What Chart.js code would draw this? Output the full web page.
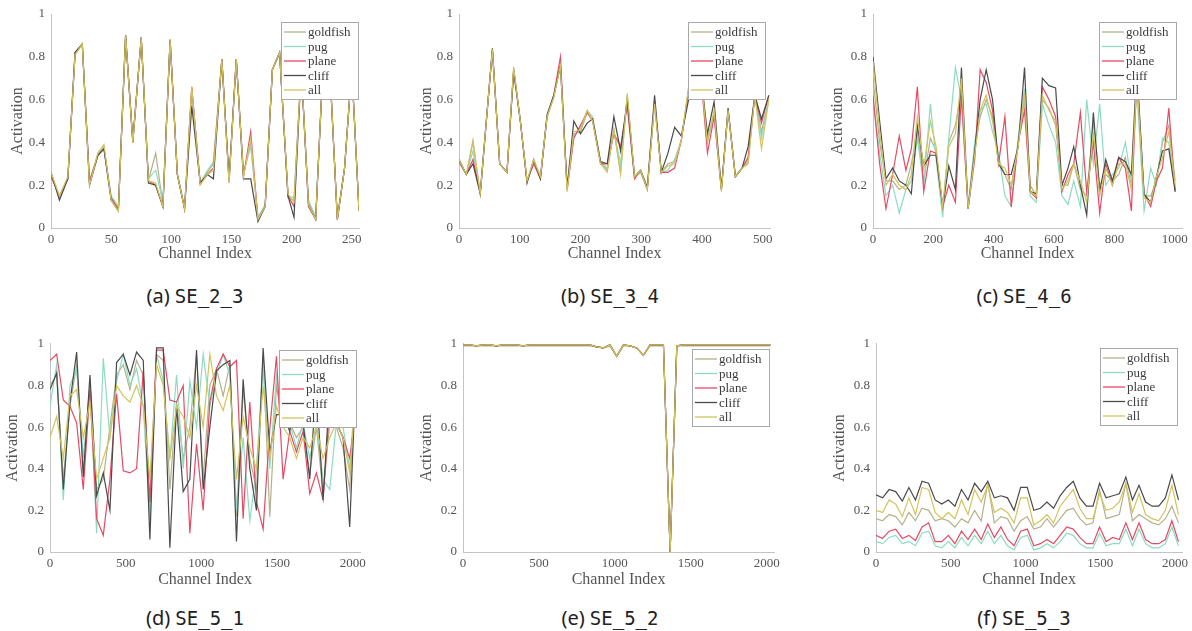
<!DOCTYPE html>
<html>
<head>
<meta charset="utf-8">
<script src="https://cdn.jsdelivr.net/npm/chart.js@4.4.0/dist/chart.umd.min.js"></script>
<style>
  body { margin: 0; background: #fff; }
  #fig { position: relative; width: 1192px; height: 631px; overflow: hidden; background: #fff; }
  canvas { position: absolute; }
  .cap { position: absolute; width: 240px; text-align: center; font-size: 20px; line-height: 24px; color: #222; white-space: nowrap; }
  .cap .lbl { font-family: "Noto Sans", sans-serif; }
  .cap .nm { font-family: "DejaVu Sans Mono", "Liberation Mono", monospace; font-size: 19px; }
</style>
</head>
<body>
<div id="fig">
  <canvas id="pa" width="385" height="266" style="left:0px;top:0px"></canvas>
  <canvas id="pb" width="385" height="266" style="left:400px;top:0px"></canvas>
  <canvas id="pc" width="392" height="266" style="left:800px;top:0px"></canvas>
  <canvas id="pd" width="385" height="266" style="left:0px;top:330px"></canvas>
  <canvas id="pe" width="385" height="266" style="left:400px;top:330px"></canvas>
  <canvas id="pf" width="392" height="266" style="left:800px;top:330px"></canvas>
  <div class="cap" style="left:75px;top:284px"><span class="lbl">(a)</span> <span class="nm">SE_2_3</span></div>
  <div class="cap" style="left:490px;top:284px"><span class="lbl">(b)</span> <span class="nm">SE_3_4</span></div>
  <div class="cap" style="left:904px;top:284px"><span class="lbl">(c)</span> <span class="nm">SE_4_6</span></div>
  <div class="cap" style="left:75px;top:606px"><span class="lbl">(d)</span> <span class="nm">SE_5_1</span></div>
  <div class="cap" style="left:490px;top:606px"><span class="lbl">(e)</span> <span class="nm">SE_5_2</span></div>
  <div class="cap" style="left:904px;top:606px"><span class="lbl">(f)</span> <span class="nm">SE_5_3</span></div>
</div>
<script>
// series shown in every panel
const seriesNames = ['goldfish', 'pug', 'plane', 'cliff', 'all'];
const seriesColors = ['#b5b08c', '#8cdcc2', '#e64a64', '#4a4a4a', '#d3c35c'];

const yTicks = [0, 0.2, 0.4, 0.6, 0.8, 1];
const xTicksA = [0, 50, 100, 150, 200, 250];
const xTicksB = [0, 100, 200, 300, 400, 500];
const xTicksC = [0, 200, 400, 600, 800, 1000];
const xTicksWide = [0, 500, 1000, 1500, 2000];

// (a) SE_2_3
const xA = [0, 7, 14, 20, 26, 32, 39, 44, 50, 56, 62, 68, 75, 81, 87, 93, 99, 105, 111, 117, 124, 130, 135, 142, 148, 154, 160, 166, 172, 178, 184, 190, 197, 202, 208, 214, 220, 226, 232, 238, 244, 250, 256];
const goldfishA = [0.26, 0.14, 0.24, 0.81, 0.86, 0.21, 0.35, 0.38, 0.14, 0.09, 0.90, 0.40, 0.89, 0.22, 0.35, 0.11, 0.88, 0.25, 0.09, 0.65, 0.21, 0.26, 0.30, 0.79, 0.21, 0.79, 0.25, 0.40, 0.05, 0.10, 0.74, 0.82, 0.14, 0.13, 0.75, 0.12, 0.05, 0.75, 0.72, 0.04, 0.28, 0.75, 0.08];
const pugA = [0.25, 0.15, 0.23, 0.81, 0.86, 0.22, 0.34, 0.38, 0.15, 0.10, 0.89, 0.41, 0.88, 0.23, 0.27, 0.12, 0.88, 0.26, 0.10, 0.64, 0.21, 0.27, 0.31, 0.78, 0.22, 0.78, 0.26, 0.38, 0.05, 0.11, 0.74, 0.81, 0.15, 0.14, 0.74, 0.13, 0.05, 0.74, 0.71, 0.05, 0.28, 0.74, 0.09];
const planeA = [0.24, 0.15, 0.23, 0.82, 0.86, 0.22, 0.34, 0.37, 0.14, 0.09, 0.90, 0.41, 0.89, 0.22, 0.20, 0.10, 0.88, 0.25, 0.09, 0.66, 0.21, 0.25, 0.28, 0.79, 0.22, 0.79, 0.24, 0.45, 0.04, 0.10, 0.74, 0.82, 0.15, 0.10, 0.75, 0.10, 0.04, 0.75, 0.72, 0.04, 0.28, 0.75, 0.08];
const cliffA = [0.26, 0.13, 0.23, 0.82, 0.86, 0.20, 0.34, 0.37, 0.13, 0.08, 0.90, 0.40, 0.89, 0.21, 0.20, 0.10, 0.88, 0.25, 0.09, 0.57, 0.21, 0.25, 0.23, 0.79, 0.23, 0.79, 0.23, 0.23, 0.03, 0.10, 0.74, 0.82, 0.15, 0.05, 0.75, 0.11, 0.04, 0.75, 0.72, 0.04, 0.28, 0.75, 0.08];
const allA = [0.26, 0.15, 0.24, 0.81, 0.86, 0.20, 0.35, 0.39, 0.13, 0.08, 0.90, 0.40, 0.89, 0.22, 0.21, 0.10, 0.88, 0.25, 0.09, 0.66, 0.20, 0.25, 0.27, 0.79, 0.21, 0.79, 0.24, 0.42, 0.04, 0.10, 0.74, 0.82, 0.16, 0.12, 0.75, 0.11, 0.04, 0.75, 0.72, 0.04, 0.28, 0.75, 0.08];

// (b) SE_3_4
const xB = [0, 12, 23, 35, 45, 55, 67, 79, 90, 101, 112, 123, 134, 145, 156, 167, 178, 189, 200, 211, 220, 233, 244, 255, 266, 277, 289, 299, 310, 322, 333, 344, 355, 366, 378, 389, 398, 409, 420, 432, 443, 455, 466, 476, 487, 498, 510];
const goldfishB = [0.32, 0.25, 0.41, 0.16, 0.50, 0.83, 0.30, 0.26, 0.75, 0.50, 0.22, 0.31, 0.24, 0.52, 0.61, 0.76, 0.18, 0.44, 0.45, 0.54, 0.51, 0.31, 0.27, 0.46, 0.26, 0.62, 0.24, 0.26, 0.18, 0.59, 0.26, 0.30, 0.31, 0.41, 0.65, 0.65, 0.72, 0.41, 0.54, 0.18, 0.55, 0.24, 0.28, 0.31, 0.62, 0.45, 0.60];
const pugB = [0.31, 0.25, 0.36, 0.16, 0.50, 0.83, 0.30, 0.26, 0.74, 0.50, 0.22, 0.31, 0.24, 0.52, 0.61, 0.76, 0.18, 0.43, 0.47, 0.55, 0.52, 0.31, 0.28, 0.45, 0.30, 0.61, 0.24, 0.26, 0.18, 0.59, 0.26, 0.27, 0.32, 0.41, 0.64, 0.64, 0.72, 0.40, 0.53, 0.18, 0.55, 0.24, 0.28, 0.32, 0.62, 0.42, 0.60];
const planeB = [0.31, 0.25, 0.32, 0.16, 0.50, 0.83, 0.30, 0.26, 0.74, 0.50, 0.22, 0.30, 0.23, 0.52, 0.62, 0.80, 0.18, 0.42, 0.48, 0.54, 0.50, 0.30, 0.30, 0.44, 0.38, 0.57, 0.23, 0.27, 0.18, 0.59, 0.26, 0.26, 0.28, 0.41, 0.64, 0.64, 0.72, 0.35, 0.52, 0.18, 0.55, 0.24, 0.28, 0.33, 0.62, 0.49, 0.62];
const cliffB = [0.32, 0.25, 0.30, 0.16, 0.50, 0.84, 0.30, 0.26, 0.73, 0.50, 0.21, 0.32, 0.23, 0.53, 0.62, 0.76, 0.19, 0.50, 0.44, 0.49, 0.51, 0.31, 0.30, 0.52, 0.36, 0.60, 0.24, 0.27, 0.19, 0.62, 0.26, 0.35, 0.47, 0.43, 0.60, 0.64, 0.72, 0.44, 0.59, 0.18, 0.56, 0.24, 0.28, 0.38, 0.62, 0.51, 0.62];
const allB = [0.32, 0.25, 0.40, 0.16, 0.50, 0.835, 0.30, 0.26, 0.75, 0.50, 0.22, 0.32, 0.24, 0.52, 0.61, 0.76, 0.17, 0.45, 0.46, 0.55, 0.50, 0.30, 0.26, 0.46, 0.25, 0.63, 0.24, 0.27, 0.18, 0.58, 0.26, 0.29, 0.30, 0.41, 0.66, 0.65, 0.72, 0.40, 0.55, 0.17, 0.55, 0.24, 0.28, 0.30, 0.62, 0.37, 0.60];

// (c) SE_4_6
const xC = [0, 22, 43, 65, 87, 109, 127, 147, 168, 190, 209, 231, 251, 273, 293, 315, 337, 355, 375, 396, 416, 437, 458, 481, 502, 521, 541, 561, 583, 605, 626, 646, 665, 687, 708, 730, 751, 771, 793, 814, 836, 856, 874, 898, 920, 939, 959, 980, 1001];
const goldfishC = [0.70, 0.40, 0.22, 0.22, 0.18, 0.20, 0.30, 0.45, 0.22, 0.42, 0.36, 0.08, 0.40, 0.48, 0.65, 0.10, 0.36, 0.52, 0.60, 0.52, 0.32, 0.25, 0.18, 0.40, 0.60, 0.20, 0.15, 0.60, 0.56, 0.48, 0.20, 0.20, 0.30, 0.18, 0.15, 0.50, 0.20, 0.25, 0.22, 0.25, 0.33, 0.20, 0.68, 0.15, 0.15, 0.22, 0.40, 0.48, 0.22];
const pugC = [0.60, 0.35, 0.15, 0.20, 0.07, 0.18, 0.22, 0.42, 0.20, 0.58, 0.32, 0.05, 0.42, 0.75, 0.60, 0.10, 0.40, 0.55, 0.58, 0.45, 0.35, 0.15, 0.10, 0.42, 0.65, 0.15, 0.12, 0.58, 0.48, 0.40, 0.15, 0.11, 0.22, 0.10, 0.60, 0.30, 0.58, 0.20, 0.25, 0.28, 0.40, 0.22, 0.65, 0.08, 0.28, 0.20, 0.42, 0.40, 0.18];
const planeC = [0.62, 0.30, 0.09, 0.25, 0.43, 0.27, 0.37, 0.66, 0.17, 0.36, 0.35, 0.10, 0.20, 0.12, 0.62, 0.09, 0.32, 0.74, 0.68, 0.55, 0.30, 0.52, 0.10, 0.40, 0.55, 0.17, 0.14, 0.66, 0.60, 0.52, 0.17, 0.25, 0.30, 0.54, 0.17, 0.40, 0.07, 0.30, 0.20, 0.33, 0.28, 0.08, 0.72, 0.16, 0.10, 0.22, 0.28, 0.56, 0.17];
const cliffC = [0.80, 0.50, 0.23, 0.28, 0.22, 0.20, 0.16, 0.48, 0.29, 0.34, 0.34, 0.10, 0.29, 0.18, 0.75, 0.09, 0.36, 0.60, 0.74, 0.60, 0.30, 0.25, 0.25, 0.38, 0.75, 0.17, 0.16, 0.70, 0.665, 0.655, 0.20, 0.28, 0.38, 0.20, 0.06, 0.54, 0.17, 0.32, 0.22, 0.33, 0.31, 0.25, 0.75, 0.16, 0.12, 0.24, 0.36, 0.37, 0.17];
const allC = [0.78, 0.45, 0.20, 0.25, 0.20, 0.18, 0.25, 0.52, 0.28, 0.50, 0.38, 0.10, 0.38, 0.44, 0.70, 0.09, 0.34, 0.55, 0.62, 0.50, 0.30, 0.28, 0.20, 0.38, 0.63, 0.17, 0.15, 0.62, 0.55, 0.50, 0.18, 0.22, 0.30, 0.22, 0.12, 0.45, 0.15, 0.28, 0.20, 0.30, 0.30, 0.18, 0.70, 0.14, 0.12, 0.24, 0.33, 0.45, 0.20];

// channel positions for the 2048-channel blocks (d, e, f)
const xWide = [0, 44, 88, 132, 176, 220, 264, 308, 352, 396, 440, 484, 528, 572, 616, 660, 704, 748, 792, 836, 880, 924, 968, 1012, 1056, 1100, 1144, 1188, 1232, 1276, 1320, 1364, 1408, 1452, 1496, 1540, 1584, 1628, 1672, 1716, 1760, 1804, 1848, 1892, 1936, 1980, 2024];

// (d) SE_5_1
const goldfishD = [0.80, 0.85, 0.35, 0.70, 0.90, 0.38, 0.82, 0.30, 0.35, 0.60, 0.85, 0.90, 0.78, 0.92, 0.85, 0.17, 0.95, 0.92, 0.30, 0.72, 0.45, 0.60, 0.95, 0.35, 0.80, 0.88, 0.75, 0.90, 0.17, 0.78, 0.45, 0.30, 0.95, 0.17, 0.80, 0.60, 0.62, 0.55, 0.60, 0.38, 0.60, 0.28, 0.62, 0.60, 0.50, 0.30, 0.88];
const pugD = [0.70, 0.90, 0.25, 0.80, 0.88, 0.45, 0.80, 0.09, 0.93, 0.55, 0.82, 0.95, 0.80, 0.88, 0.70, 0.15, 0.95, 0.82, 0.45, 0.85, 0.40, 0.82, 0.60, 0.95, 0.70, 0.85, 0.95, 0.85, 0.20, 0.55, 0.15, 0.40, 0.90, 0.40, 0.85, 0.62, 0.62, 0.50, 0.62, 0.45, 0.62, 0.35, 0.30, 0.62, 0.60, 0.40, 0.85];
const planeD = [0.92, 0.95, 0.73, 0.70, 0.62, 0.30, 0.78, 0.16, 0.08, 0.35, 0.76, 0.39, 0.38, 0.40, 0.87, 0.24, 0.97, 0.97, 0.73, 0.72, 0.80, 0.09, 0.52, 0.20, 0.72, 0.88, 0.95, 0.89, 0.92, 0.16, 0.72, 0.24, 0.11, 0.59, 0.94, 0.35, 0.58, 0.48, 0.58, 0.28, 0.38, 0.25, 0.70, 0.62, 0.55, 0.45, 0.70];
const cliffD = [0.78, 0.86, 0.30, 0.72, 0.96, 0.36, 0.85, 0.27, 0.38, 0.20, 0.91, 0.95, 0.85, 0.96, 0.92, 0.06, 0.98, 0.98, 0.02, 0.70, 0.29, 0.35, 0.97, 0.30, 0.60, 0.87, 0.90, 0.92, 0.05, 0.83, 0.40, 0.20, 0.98, 0.48, 0.66, 0.66, 0.58, 0.75, 0.62, 0.35, 0.80, 0.25, 0.78, 0.62, 0.55, 0.12, 0.90];
const allD = [0.55, 0.65, 0.45, 0.75, 0.78, 0.55, 0.72, 0.35, 0.45, 0.55, 0.80, 0.75, 0.72, 0.80, 0.70, 0.35, 0.90, 0.80, 0.45, 0.70, 0.65, 0.55, 0.80, 0.60, 0.95, 0.75, 0.68, 0.80, 0.35, 0.65, 0.50, 0.40, 0.80, 0.45, 0.70, 0.60, 0.55, 0.45, 0.55, 0.50, 0.60, 0.45, 0.55, 0.62, 0.55, 0.38, 0.80];

// (e) SE_5_2
const goldfishE = [0.99, 0.99, 0.99, 0.99, 0.99, 0.99, 0.99, 0.99, 0.99, 0.99, 0.99, 0.99, 0.99, 0.99, 0.99, 0.99, 0.99, 0.99, 0.99, 0.99, 0.985, 0.98, 0.99, 0.94, 0.99, 0.99, 0.98, 0.945, 0.99, 0.99, 0.99, 0.0, 0.99, 0.99, 0.99, 0.99, 0.99, 0.99, 0.99, 0.99, 0.99, 0.99, 0.99, 0.99, 0.99, 0.99, 0.99];
const pugE = [0.995, 0.995, 0.99, 0.995, 0.995, 0.99, 0.995, 0.995, 0.995, 0.99, 0.995, 0.995, 0.995, 0.995, 0.995, 0.995, 0.995, 0.995, 0.995, 0.995, 0.985, 0.98, 0.995, 0.94, 0.995, 0.99, 0.98, 0.945, 0.995, 0.995, 0.995, 0.0, 0.99, 0.995, 0.995, 0.995, 0.995, 0.995, 0.995, 0.995, 0.995, 0.995, 0.995, 0.995, 0.995, 0.995, 0.995];
const planeE = [0.995, 0.995, 0.99, 0.995, 0.995, 0.99, 0.995, 0.995, 0.995, 0.99, 0.995, 0.995, 0.995, 0.995, 0.995, 0.995, 0.995, 0.995, 0.995, 0.995, 0.985, 0.98, 0.995, 0.94, 0.995, 0.99, 0.98, 0.945, 0.995, 0.995, 0.995, 0.0, 0.99, 0.995, 0.995, 0.995, 0.995, 0.995, 0.995, 0.995, 0.995, 0.995, 0.995, 0.995, 0.995, 0.995, 0.995];
const cliffE = [0.995, 0.995, 0.99, 0.995, 0.995, 0.99, 0.995, 0.995, 0.995, 0.99, 0.995, 0.995, 0.995, 0.995, 0.995, 0.995, 0.995, 0.995, 0.995, 0.995, 0.985, 0.98, 0.995, 0.94, 0.995, 0.99, 0.98, 0.945, 0.995, 0.995, 0.995, 0.0, 0.99, 0.995, 0.995, 0.995, 0.995, 0.995, 0.995, 0.995, 0.995, 0.995, 0.995, 0.995, 0.995, 0.995, 0.995];
const allE = [0.995, 0.995, 0.99, 0.995, 0.995, 0.99, 0.995, 0.995, 0.995, 0.99, 0.995, 0.995, 0.995, 0.995, 0.995, 0.995, 0.995, 0.995, 0.995, 0.995, 0.985, 0.98, 0.995, 0.94, 0.995, 0.99, 0.98, 0.945, 0.995, 0.995, 0.995, 0.0, 0.99, 0.995, 0.995, 0.995, 0.995, 0.995, 0.995, 0.995, 0.995, 0.995, 0.995, 0.995, 0.995, 0.995, 0.995];

// (f) SE_5_3
const goldfishF = [0.16, 0.15, 0.18, 0.17, 0.13, 0.19, 0.15, 0.21, 0.20, 0.15, 0.16, 0.15, 0.12, 0.16, 0.14, 0.20, 0.15, 0.33, 0.14, 0.17, 0.16, 0.10, 0.15, 0.17, 0.11, 0.12, 0.16, 0.12, 0.16, 0.20, 0.21, 0.16, 0.13, 0.14, 0.30, 0.16, 0.17, 0.18, 0.33, 0.15, 0.18, 0.16, 0.14, 0.13, 0.16, 0.22, 0.14];
const pugF = [0.05, 0.04, 0.07, 0.08, 0.04, 0.05, 0.03, 0.09, 0.10, 0.03, 0.02, 0.05, 0.02, 0.07, 0.03, 0.08, 0.04, 0.10, 0.04, 0.08, 0.03, 0.01, 0.07, 0.08, 0.01, 0.02, 0.04, 0.02, 0.05, 0.09, 0.08, 0.04, 0.02, 0.02, 0.09, 0.03, 0.04, 0.04, 0.11, 0.03, 0.11, 0.04, 0.02, 0.02, 0.04, 0.12, 0.03];
const planeF = [0.08, 0.065, 0.10, 0.11, 0.065, 0.08, 0.055, 0.12, 0.14, 0.05, 0.05, 0.08, 0.04, 0.10, 0.06, 0.11, 0.06, 0.135, 0.07, 0.12, 0.06, 0.03, 0.10, 0.11, 0.03, 0.04, 0.06, 0.04, 0.08, 0.12, 0.11, 0.07, 0.04, 0.04, 0.12, 0.05, 0.07, 0.06, 0.14, 0.06, 0.14, 0.06, 0.04, 0.04, 0.06, 0.15, 0.05];
const cliffF = [0.275, 0.26, 0.30, 0.29, 0.245, 0.31, 0.25, 0.34, 0.33, 0.25, 0.23, 0.25, 0.22, 0.30, 0.25, 0.33, 0.29, 0.34, 0.26, 0.27, 0.26, 0.20, 0.31, 0.31, 0.20, 0.21, 0.24, 0.21, 0.27, 0.31, 0.34, 0.26, 0.22, 0.22, 0.33, 0.26, 0.27, 0.28, 0.36, 0.25, 0.32, 0.24, 0.22, 0.22, 0.26, 0.37, 0.25];
const allF = [0.20, 0.19, 0.25, 0.23, 0.17, 0.26, 0.18, 0.31, 0.30, 0.19, 0.16, 0.19, 0.16, 0.25, 0.18, 0.30, 0.24, 0.32, 0.19, 0.21, 0.19, 0.14, 0.26, 0.26, 0.13, 0.15, 0.18, 0.14, 0.22, 0.26, 0.30, 0.21, 0.16, 0.16, 0.28, 0.20, 0.21, 0.24, 0.33, 0.19, 0.28, 0.18, 0.16, 0.15, 0.20, 0.32, 0.18];

const serif = '"Liberation Serif", "DejaVu Serif", serif';

// legend drawn as a boxed overlay inside the plot, like the original figure
const boxLegend = {
  id: 'boxLegend',
  afterDatasetsDraw(chart, args, opts) {
    const ctx = chart.ctx;
    const area = chart.chartArea;
    const w = 77, h = 77;
    const x0 = Math.round(area.right - w - opts.dx);
    const y0 = Math.round(area.top + opts.dy);
    ctx.save();
    ctx.fillStyle = '#fff';
    ctx.fillRect(x0, y0, w, h);
    ctx.strokeStyle = '#a8a8a8';
    ctx.lineWidth = 1;
    ctx.strokeRect(x0 + 0.5, y0 + 0.5, w, h);
    ctx.font = '13px ' + serif;
    ctx.textBaseline = 'middle';
    chart.data.datasets.forEach((ds, i) => {
      const y = y0 + 10 + i * 14.5;
      ctx.strokeStyle = ds.borderColor;
      ctx.lineWidth = 1.3;
      ctx.beginPath();
      ctx.moveTo(x0 + 3, y);
      ctx.lineTo(x0 + 25, y);
      ctx.stroke();
      ctx.fillStyle = '#3c3c3c';
      ctx.fillText(ds.label, x0 + 27, y + 1);
    });
    ctx.restore();
  }
};

function makePanel(p) {
  const b = p.box;
  const datasets = p.ys.map((ys, k) => ({
    label: seriesNames[k],
    data: p.xs.map((x, i) => ({ x: x, y: ys[i] })),
    borderColor: seriesColors[k],
    borderWidth: 1.2,
    pointRadius: 0,
    tension: 0,
    fill: false,
    order: seriesNames.length - 1 - k
  }));

  new Chart(document.getElementById(p.id), {
    type: 'line',
    data: { datasets: datasets },
    plugins: [boxLegend],
    options: {
      responsive: false,
      animation: false,
      layout: {
        autoPadding: false,
        padding: { left: 0, top: b.T - b.top, right: b.left + b.w - b.R, bottom: 0 }
      },
      plugins: {
        legend: { display: false },
        tooltip: { enabled: false },
        boxLegend: p.legend
      },
      scales: {
        x: {
          type: 'linear',
          min: 0,
          max: p.xMax,
          afterBuildTicks: s => { s.ticks = p.xTicks.map(v => ({ value: v })); },
          afterFit: s => { s.height = b.top + b.h - b.B; },
          grid: { display: false, drawTicks: false },
          border: { display: true, color: '#c4c4c4', width: 1 },
          ticks: { padding: 4, color: '#555', font: { family: serif, size: 13 }, maxRotation: 0, callback: v => String(v) },
          title: {
            display: true, text: 'Channel Index', color: '#555',
            font: { family: serif, size: 16 },
            padding: { top: 0, bottom: b.top + b.h - b.titleY - 9.6 }
          }
        },
        y: {
          min: 0,
          max: 1,
          afterBuildTicks: s => { s.ticks = yTicks.map(v => ({ value: v })); },
          afterFit: s => { s.width = b.L - b.left; },
          grid: { display: false, drawTicks: false },
          border: { display: true, color: '#c4c4c4', width: 1 },
          ticks: { padding: 6, color: '#555', font: { family: serif, size: 13 }, callback: v => String(v) },
          title: {
            display: true, text: 'Activation', color: '#555',
            font: { family: serif, size: 16 },
            padding: { top: b.titleX - b.left - 9.6, bottom: 0 }
          }
        }
      }
    }
  });
}

const panels = [
  { id: 'pa', xs: xA, ys: [goldfishA, pugA, planeA, cliffA, allA], xMax: 256, xTicks: xTicksA,
    box: { left: 0, top: 0, w: 385, h: 266, L: 51, T: 14, R: 359, B: 228, titleX: 18, titleY: 254 }, legend: { dx: 1, dy: 8 } },
  { id: 'pb', xs: xB, ys: [goldfishB, pugB, planeB, cliffB, allB], xMax: 512, xTicks: xTicksB,
    box: { left: 400, top: 0, w: 385, h: 266, L: 459, T: 14, R: 770, B: 228, titleX: 427, titleY: 254 }, legend: { dx: 5, dy: 8 } },
  { id: 'pc', xs: xC, ys: [goldfishC, pugC, planeC, cliffC, allC], xMax: 1024, xTicks: xTicksC,
    box: { left: 800, top: 0, w: 392, h: 266, L: 873, T: 14, R: 1186, B: 228, titleX: 838, titleY: 254 }, legend: { dx: 6, dy: 8 } },
  { id: 'pd', xs: xWide, ys: [goldfishD, pugD, planeD, cliffD, allD], xMax: 2048, xTicks: xTicksWide,
    box: { left: 0, top: 330, w: 385, h: 266, L: 50, T: 343, R: 360, B: 552, titleX: 13, titleY: 580 }, legend: { dx: 4, dy: 6 } },
  { id: 'pe', xs: xWide, ys: [goldfishE, pugE, planeE, cliffE, allE], xMax: 2048, xTicks: xTicksWide,
    box: { left: 400, top: 330, w: 385, h: 266, L: 463, T: 343, R: 774, B: 552, titleX: 427, titleY: 580 }, legend: { dx: 5, dy: 5 } },
  { id: 'pf', xs: xWide, ys: [goldfishF, pugF, planeF, cliffF, allF], xMax: 2048, xTicks: xTicksWide,
    box: { left: 800, top: 330, w: 392, h: 266, L: 876, T: 343, R: 1187, B: 552, titleX: 840, titleY: 580 }, legend: { dx: 5, dy: 4 } }
];

panels.forEach(makePanel);
</script>
</body>
</html>
